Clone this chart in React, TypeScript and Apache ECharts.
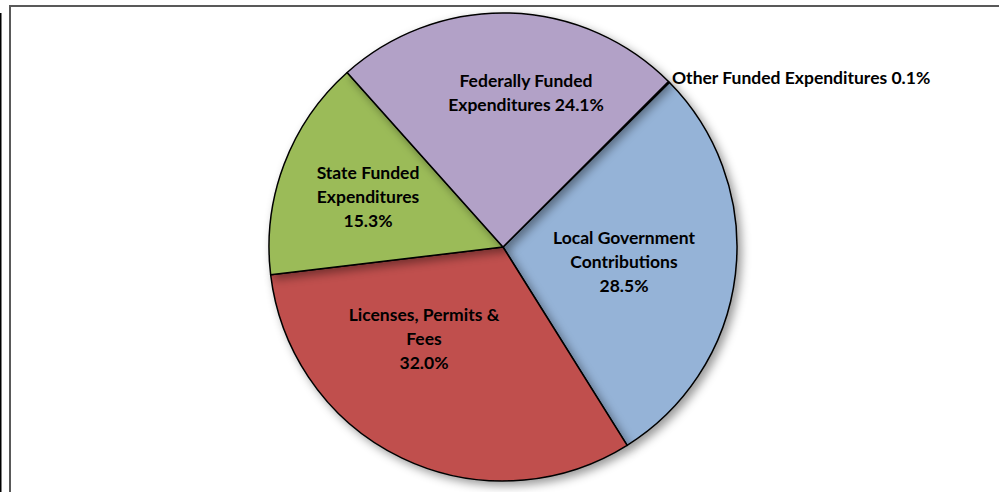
import React, { useEffect, useRef } from "react";
import * as echarts from "echarts";

const categories = [
  "Other Funded Expenditures",
  "Local Government Contributions",
  "Licenses, Permits & Fees",
  "State Funded Expenditures",
  "Federally Funded Expenditures",
];
const values = [0.1, 28.5, 32.0, 15.3, 24.1];
const labelTexts = [
  "Other Funded Expenditures 0.1%",
  "Local Government\nContributions\n28.5%",
  "Licenses, Permits &\nFees\n32.0%",
  "State Funded\nExpenditures\n15.3%",
  "Federally Funded\nExpenditures 24.1%",
];
const colors = ["#4F81BD", "#95B3D7", "#C0504D", "#9BBB59", "#B2A1C7"];

// label anchor positions (px)
const labelPos: [number, number, string][] = [
  [672, 77, "left"],
  [624, 261, "center"],
  [424, 338, "center"],
  [368, 196, "center"],
  [526, 92, "center"],
];

export default function App() {
  const ref = useRef<HTMLDivElement>(null);
  useEffect(() => {
    const chart = echarts.init(ref.current!, null, { renderer: "svg" });
    chart.setOption({
      animation: false,
      backgroundColor: "#ffffff",
      graphic: [
        {
          type: "rect",
          shape: { x: 10, y: 6, width: 1100, height: 600 },
          style: { fill: "none", stroke: "#595959", lineWidth: 2 },
          z: -1,
        },
        {
          type: "line",
          shape: { x1: 0.75, y1: 13, x2: 0.75, y2: 492 },
          style: { stroke: "#000", lineWidth: 1.5 },
        },
      ],
      series: [
        {
          type: "pie",
          center: [503, 247],
          radius: 234,
          startAngle: 45,
          clockwise: true,
          avoidLabelOverlap: false,
          itemStyle: {
            borderColor: "#000",
            borderWidth: 1.5,
            shadowBlur: 10,
            shadowOffsetX: 4,
            shadowOffsetY: 4,
            shadowColor: "rgba(0,0,0,0.4)",
          },
          label: {
            show: true,
            position: "inside",
            color: "#000",
            fontFamily: "Lato",
            fontWeight: "bold",
            fontSize: 17.5,
            lineHeight: 24,
          },
          labelLine: { show: false },
          labelLayout: (p: any) => {
            const lp = labelPos[p.dataIndex];
            return {
              x: lp[0],
              y: lp[1],
              align: lp[2],
              verticalAlign: "middle",
            };
          },
          emphasis: { disabled: true },
          data: categories.map((c, i) => ({
            name: c,
            value: values[i],
            itemStyle: { color: colors[i] },
            label: { formatter: labelTexts[i], align: labelPos[i][2] },
          })),
        },
      ],
    });
    return () => chart.dispose();
  }, []);
  return (
    <div
      ref={ref}
      style={{ position: "fixed", left: 0, top: 0, width: 999, height: 492 }}
    />
  );
}
